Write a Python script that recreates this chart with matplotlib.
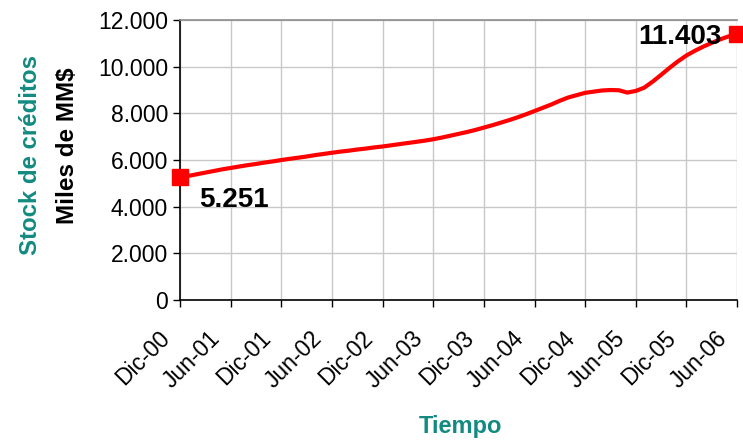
import matplotlib.pyplot as plt
import matplotlib.transforms as mtransforms
import numpy as np

plt.rcParams['font.family'] = ['Liberation Sans', 'DejaVu Sans']

# stock de créditos, miles de MM$, mensual Dic-00 .. Jun-06
stock = [5251, 5320, 5390, 5460, 5530, 5600, 5660, 5720, 5780, 5830, 5890, 5940,
         6000, 6050, 6100, 6150, 6210, 6260, 6310, 6360, 6400, 6450, 6490, 6540,
         6580, 6630, 6680, 6730, 6780, 6830, 6890, 6960, 7040, 7120, 7200, 7290,
         7390, 7490, 7600, 7710, 7830, 7960, 8100, 8240, 8380, 8540, 8680, 8780,
         8880, 8930, 8980, 9000, 8990, 8890, 8960, 9100, 9360, 9650, 9950, 10230,
         10480, 10680, 10860, 11020, 11170, 11300, 11403]
tick_labels = ['Dic-00', 'Jun-01', 'Dic-01', 'Jun-02', 'Dic-02', 'Jun-03',
               'Dic-03', 'Jun-04', 'Dic-04', 'Jun-05', 'Dic-05', 'Jun-06']
first_label = '5.251'
last_label = '11.403'

teal = '#138a80'
x = np.arange(len(stock))
ticks = np.arange(0, len(stock), 6)

fig = plt.figure(figsize=(7.43, 4.41), dpi=100)
ax = fig.add_axes([0.2423, 0.3197, 0.7497, 0.6349])

ax.plot(x, stock, color='#ff0000', lw=3, solid_capstyle='round')
ax.plot([x[0], x[-1]], [stock[0], stock[-1]], 's', color='#ff0000', ms=11,
        clip_on=False, zorder=5)

ax.set_xlim(0, len(stock) - 1)
ax.set_ylim(0, 12000)
ax.set_yticks(np.arange(0, 12001, 2000))
ax.set_yticklabels(['0' if v == 0 else f'{v // 1000}.000' for v in range(0, 12001, 2000)])
ax.set_xticks(ticks)
ax.tick_params(axis='x', labelbottom=False)

# rotated month labels, top-right corner placed below-left of each tick
lab_trans = mtransforms.offset_copy(ax.get_xaxis_transform(), fig=fig,
                                    x=-22, y=-27, units='dots')
for xi, lab in zip(ticks, tick_labels):
    ax.text(xi, 0, lab, transform=lab_trans, rotation=45, ha='right', va='top',
            rotation_mode='anchor', fontsize=16.5, clip_on=False)

ax.grid(True, color='#c8c8c8', lw=1)
ax.set_axisbelow(True)
ax.spines['right'].set_visible(False)
ax.spines['top'].set_color('#8c8c8c')
ax.spines['top'].set_linewidth(1.2)
for s in ['left', 'bottom']:
    ax.spines[s].set_color('black')
    ax.spines[s].set_linewidth(1.2)
ax.tick_params(axis='both', labelsize=16.5, length=5, width=1, colors='black')

ax.annotate(first_label, (x[0], stock[0]), xytext=(14, -16), textcoords='offset points',
            ha='left', va='center', fontsize=20, fontweight='bold')
ax.annotate(last_label, (x[-1], stock[-1]), xytext=(-11, -2), textcoords='offset points',
            ha='right', va='center', fontsize=20, fontweight='bold')

fig.text(31 / 743, 1 - 155 / 441, 'Stock de créditos', rotation=90, ha='center', va='center',
         fontsize=17.3, fontweight='bold', color=teal)
fig.text(68 / 743, 1 - 146 / 441, 'Miles de MM$', rotation=90, ha='center', va='center',
         fontsize=17.5, fontweight='bold', color='black')
fig.text(460 / 743, 1 - 427 / 441, 'Tiempo', ha='center', va='center',
         fontsize=17, fontweight='bold', color=teal)

fig.savefig('out.png', dpi=100)
